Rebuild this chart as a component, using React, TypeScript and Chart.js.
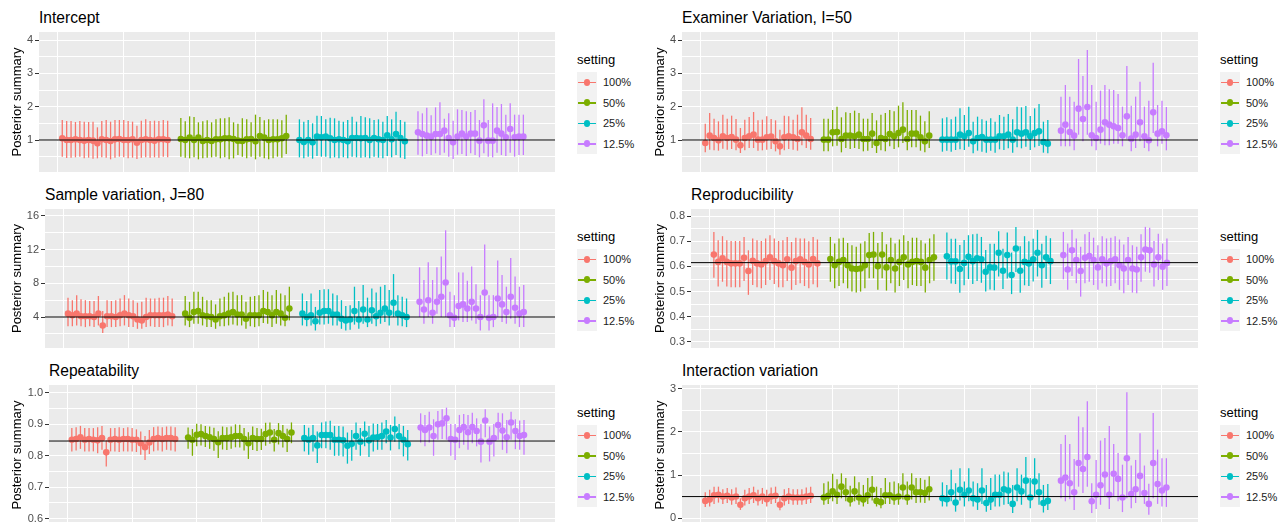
import React, { useEffect, useRef } from "react";
import { Chart, registerables } from "chart.js";

Chart.register(...registerables);

const FONT = '"Liberation Sans", Arial, Helvetica, sans-serif';

// Simulation settings (share of examiners observed) and their colours
const settings = ["100%", "50%", "25%", "12.5%"];
const settingColors = ["#F8766D", "#7CAE00", "#00BFC4", "#C77CFF"];

// Replicate runs within each setting; settings are laid out one after another on the x axis
const runNumbers = [1, 2, 3, 4, 5, 6, 7, 8, 9, 10, 11, 12, 13, 14, 15, 16, 17, 18, 19, 20, 21, 22, 23, 24, 25];
const settingSpacing = 27;
const xGridValues = [0, 15, 30, 45, 60, 75, 90, 105];
const xMin = -4.3;
const xMax = 113.2;

// ---------- Intercept ----------
const interceptEst = [
  [1.05, 1.0, 1.0, 1.02, 1.0, 0.98, 1.0, 0.98, 0.9, 1.02, 1.0, 0.97, 1.02, 1.03, 1.0, 1.0, 1.02, 0.92, 1.0, 1.02, 1.0, 0.98, 1.02, 1.02, 1.0],
  [1.03, 1.0, 1.07, 1.0, 1.07, 0.97, 1.0, 0.97, 1.02, 1.02, 1.05, 1.05, 1.03, 0.98, 0.97, 1.02, 1.03, 0.96, 1.12, 1.07, 1.0, 1.02, 1.02, 1.05, 1.12],
  [1.0, 0.94, 1.0, 0.93, 1.1, 1.08, 1.1, 1.05, 1.0, 1.02, 1.0, 0.96, 1.06, 1.06, 1.05, 1.06, 1.0, 1.06, 1.02, 1.0, 1.14, 1.02, 1.18, 1.06, 0.96],
  [1.23, 1.18, 1.13, 1.1, 1.18, 1.18, 1.28, 1.06, 0.93, 1.1, 1.19, 1.1, 1.19, 1.19, 0.98, 1.44, 0.98, 0.98, 1.28, 1.19, 1.08, 1.33, 1.08, 1.1, 1.1],
];
const interceptLower = [
  [0.5, 0.46, 0.47, 0.48, 0.5, 0.45, 0.47, 0.44, 0.45, 0.48, 0.47, 0.42, 0.47, 0.5, 0.48, 0.45, 0.47, 0.43, 0.47, 0.48, 0.47, 0.48, 0.47, 0.5, 0.48],
  [0.5, 0.47, 0.45, 0.48, 0.42, 0.45, 0.47, 0.48, 0.5, 0.45, 0.48, 0.42, 0.45, 0.55, 0.5, 0.45, 0.5, 0.42, 0.5, 0.45, 0.42, 0.45, 0.5, 0.47, 0.58],
  [0.48, 0.45, 0.5, 0.44, 0.52, 0.5, 0.5, 0.45, 0.48, 0.45, 0.48, 0.45, 0.5, 0.48, 0.47, 0.48, 0.45, 0.5, 0.47, 0.45, 0.52, 0.48, 0.55, 0.47, 0.43],
  [0.56, 0.51, 0.58, 0.55, 0.6, 0.55, 0.62, 0.5, 0.43, 0.56, 0.58, 0.52, 0.6, 0.55, 0.48, 0.6, 0.5, 0.48, 0.62, 0.55, 0.52, 0.62, 0.5, 0.55, 0.55],
];
const interceptUpper = [
  [1.6, 1.57, 1.57, 1.54, 1.57, 1.55, 1.54, 1.55, 1.38, 1.57, 1.6, 1.55, 1.6, 1.6, 1.6, 1.57, 1.55, 1.43, 1.58, 1.62, 1.57, 1.58, 1.57, 1.6, 1.58],
  [1.66, 1.56, 1.71, 1.69, 1.53, 1.56, 1.59, 1.53, 1.62, 1.65, 1.65, 1.68, 1.53, 1.49, 1.65, 1.62, 1.53, 1.76, 1.69, 1.59, 1.62, 1.62, 1.62, 1.59, 1.76],
  [1.62, 1.55, 1.6, 1.5, 1.73, 1.72, 1.62, 1.67, 1.65, 1.58, 1.55, 1.6, 1.7, 1.55, 1.72, 1.68, 1.65, 1.6, 1.62, 1.55, 1.72, 1.62, 1.85, 1.6, 1.55],
  [1.86, 1.8, 1.97, 1.74, 1.98, 2.13, 1.64, 1.8, 1.58, 1.92, 1.9, 1.86, 1.84, 1.9, 1.6, 2.22, 1.6, 2.1, 1.99, 2.08, 1.76, 2.1, 1.76, 1.76, 1.76],
];

// ---------- Examiner variation ----------
const examinerEst = [
  [0.91, 1.13, 1.06, 0.99, 1.11, 1.06, 1.09, 1.01, 0.84, 1.06, 1.11, 1.16, 1.01, 1.01, 1.08, 1.1, 0.96, 0.81, 1.08, 1.11, 1.08, 1.03, 1.23, 1.13, 1.03],
  [1.01, 1.01, 1.23, 1.24, 1.03, 1.13, 1.13, 1.11, 1.16, 1.03, 1.03, 1.19, 0.91, 1.06, 1.03, 1.18, 1.11, 1.21, 1.31, 1.03, 1.19, 1.19, 1.08, 0.96, 1.13],
  [1.01, 1.01, 1.01, 1.01, 1.16, 1.11, 1.21, 0.96, 1.06, 1.09, 1.01, 1.01, 1.01, 1.11, 1.11, 1.16, 1.01, 1.23, 1.19, 1.23, 1.11, 1.21, 1.26, 0.94, 0.89],
  [1.28, 1.46, 1.24, 1.13, 1.94, 1.63, 1.99, 1.14, 1.06, 1.31, 1.53, 1.46, 1.41, 1.36, 1.14, 1.71, 1.04, 1.16, 1.53, 1.11, 0.99, 1.83, 1.19, 1.26, 1.14],
];
const examinerLower = [
  [0.63, 0.71, 0.69, 0.68, 0.74, 0.71, 0.73, 0.69, 0.61, 0.69, 0.76, 0.76, 0.68, 0.69, 0.71, 0.73, 0.66, 0.56, 0.69, 0.73, 0.71, 0.68, 0.84, 0.76, 0.71],
  [0.66, 0.66, 0.81, 0.83, 0.63, 0.76, 0.73, 0.76, 0.73, 0.66, 0.68, 0.76, 0.61, 0.69, 0.66, 0.81, 0.73, 0.78, 0.91, 0.69, 0.78, 0.78, 0.68, 0.63, 0.76],
  [0.65, 0.68, 0.65, 0.7, 0.72, 0.7, 0.8, 0.6, 0.68, 0.65, 0.62, 0.68, 0.62, 0.72, 0.7, 0.75, 0.62, 0.78, 0.75, 0.8, 0.7, 0.78, 0.82, 0.62, 0.6],
  [0.81, 0.81, 0.81, 0.69, 1.16, 0.96, 1.16, 0.81, 0.69, 0.89, 0.84, 0.84, 0.89, 0.89, 0.81, 1.03, 0.66, 0.76, 0.96, 0.76, 0.66, 1.21, 0.81, 0.89, 0.69],
];
const examinerUpper = [
  [1.49, 1.81, 1.64, 1.56, 1.76, 1.64, 1.73, 1.63, 1.36, 1.61, 1.69, 1.84, 1.59, 1.61, 1.71, 1.63, 1.59, 1.31, 1.73, 1.71, 1.61, 1.76, 1.98, 1.76, 1.66],
  [1.64, 1.64, 1.9, 2.0, 1.68, 1.83, 1.81, 1.88, 1.81, 1.64, 1.64, 1.81, 1.59, 1.76, 1.81, 1.9, 1.86, 2.03, 2.13, 1.9, 1.9, 1.9, 1.73, 1.56, 1.86],
  [1.65, 1.68, 1.62, 1.7, 1.95, 1.75, 2.0, 1.55, 1.7, 1.62, 1.58, 1.65, 1.55, 1.75, 1.7, 1.78, 1.62, 2.0, 1.98, 2.02, 1.72, 1.95, 2.08, 1.55, 1.6],
  [2.3, 2.65, 2.3, 2.15, 3.43, 2.92, 3.7, 2.65, 2.15, 2.48, 2.65, 2.52, 2.5, 2.38, 2.0, 3.22, 2.03, 2.3, 2.75, 2.0, 2.18, 3.32, 2.05, 2.18, 1.99],
];

// ---------- Sample variation ----------
const sampleEst = [
  [4.4, 4.2, 4.4, 4.1, 4.1, 4.1, 4.0, 4.4, 3.0, 4.1, 4.1, 4.0, 4.2, 4.4, 4.2, 4.1, 3.7, 3.6, 4.0, 4.2, 4.2, 4.2, 4.2, 4.3, 4.1],
  [4.4, 3.9, 4.6, 4.7, 4.2, 4.1, 4.0, 3.7, 4.1, 4.2, 4.4, 4.6, 4.3, 4.3, 3.8, 4.2, 4.2, 4.2, 4.7, 4.6, 4.2, 4.6, 4.4, 3.9, 5.0],
  [4.4, 4.0, 4.2, 3.5, 4.5, 4.7, 4.7, 4.3, 4.3, 3.8, 3.6, 3.7, 4.7, 3.7, 4.9, 3.7, 4.8, 4.1, 4.5, 5.0, 4.5, 5.7, 4.4, 4.2, 4.0],
  [5.8, 4.9, 6.0, 4.5, 5.8, 6.4, 8.1, 4.2, 3.9, 5.3, 5.5, 5.0, 5.8, 5.0, 4.0, 6.9, 3.9, 4.0, 6.2, 5.5, 4.6, 6.4, 5.1, 4.4, 4.6],
];
const sampleLower = [
  [2.9, 2.9, 3.0, 2.9, 2.8, 2.9, 2.8, 3.0, 2.1, 2.8, 2.8, 2.8, 2.9, 3.0, 2.8, 2.8, 2.6, 2.6, 2.8, 2.9, 2.8, 2.8, 2.8, 3.0, 2.9],
  [3.0, 2.8, 3.2, 3.2, 3.0, 2.8, 2.8, 2.6, 2.9, 2.9, 3.0, 3.1, 3.0, 3.0, 2.6, 2.9, 2.8, 2.9, 3.3, 3.2, 2.8, 3.2, 3.0, 2.9, 3.6],
  [3.0, 2.9, 3.0, 2.4, 3.1, 3.1, 3.2, 3.0, 3.0, 2.6, 2.4, 2.5, 3.1, 2.6, 3.2, 2.8, 3.2, 2.9, 3.2, 3.4, 3.0, 4.0, 3.0, 2.9, 2.8],
  [4.0, 3.2, 4.0, 3.2, 4.4, 4.0, 4.0, 2.8, 2.8, 3.6, 3.4, 3.4, 3.6, 3.2, 2.4, 4.0, 2.4, 2.8, 4.0, 3.4, 3.2, 3.8, 3.2, 2.8, 2.8],
];
const sampleUpper = [
  [6.3, 6.0, 6.6, 6.1, 6.0, 5.9, 5.9, 6.5, 4.7, 6.0, 5.9, 6.0, 6.2, 6.6, 6.2, 6.0, 5.7, 5.8, 6.3, 6.2, 6.2, 6.3, 6.3, 6.5, 6.2],
  [6.5, 5.8, 7.0, 7.0, 6.4, 6.0, 6.0, 5.5, 6.2, 6.4, 6.9, 7.0, 6.6, 6.6, 5.8, 6.4, 6.5, 6.6, 7.2, 7.0, 6.6, 7.2, 6.8, 6.6, 7.6],
  [6.8, 5.9, 6.8, 5.2, 7.2, 7.3, 7.3, 6.8, 6.6, 6.0, 5.3, 5.4, 7.6, 5.9, 7.8, 6.3, 7.4, 6.9, 7.6, 7.8, 7.2, 9.1, 6.6, 6.4, 6.2],
  [9.9, 8.4, 10.5, 8.4, 9.9, 11.2, 14.3, 7.0, 6.6, 9.3, 9.3, 8.3, 10.0, 7.9, 6.6, 12.6, 6.6, 6.6, 10.7, 9.0, 7.6, 11.0, 8.8, 7.6, 7.8],
];

// ---------- Reproducibility ----------
const reproEst = [
  [0.647, 0.618, 0.632, 0.618, 0.612, 0.612, 0.612, 0.634, 0.582, 0.622, 0.612, 0.608, 0.621, 0.636, 0.621, 0.612, 0.605, 0.628, 0.595, 0.621, 0.628, 0.618, 0.608, 0.629, 0.612],
  [0.629, 0.605, 0.618, 0.625, 0.605, 0.592, 0.59, 0.592, 0.605, 0.645, 0.647, 0.601, 0.647, 0.596, 0.625, 0.592, 0.618, 0.636, 0.608, 0.618, 0.621, 0.618, 0.595, 0.625, 0.636],
  [0.64, 0.62, 0.62, 0.59, 0.614, 0.638, 0.621, 0.632, 0.628, 0.579, 0.596, 0.595, 0.654, 0.583, 0.645, 0.566, 0.671, 0.583, 0.618, 0.612, 0.628, 0.654, 0.605, 0.636, 0.621],
  [0.645, 0.588, 0.664, 0.625, 0.582, 0.634, 0.641, 0.625, 0.596, 0.628, 0.612, 0.621, 0.628, 0.605, 0.592, 0.625, 0.592, 0.588, 0.636, 0.667, 0.664, 0.608, 0.636, 0.599, 0.614],
];
const reproLower = [
  [0.555, 0.52, 0.539, 0.52, 0.517, 0.517, 0.517, 0.542, 0.487, 0.526, 0.517, 0.513, 0.526, 0.546, 0.53, 0.517, 0.517, 0.542, 0.507, 0.526, 0.533, 0.522, 0.513, 0.529, 0.517],
  [0.539, 0.513, 0.522, 0.533, 0.513, 0.5, 0.496, 0.5, 0.513, 0.553, 0.553, 0.507, 0.553, 0.504, 0.533, 0.496, 0.522, 0.546, 0.513, 0.526, 0.522, 0.522, 0.496, 0.533, 0.543],
  [0.548, 0.532, 0.53, 0.495, 0.525, 0.55, 0.53, 0.542, 0.535, 0.5, 0.508, 0.505, 0.56, 0.51, 0.552, 0.49, 0.578, 0.495, 0.525, 0.522, 0.54, 0.56, 0.515, 0.55, 0.53],
  [0.549, 0.507, 0.562, 0.533, 0.48, 0.533, 0.539, 0.526, 0.507, 0.533, 0.52, 0.522, 0.533, 0.507, 0.493, 0.526, 0.496, 0.493, 0.539, 0.579, 0.575, 0.52, 0.546, 0.507, 0.522],
];
const reproUpper = [
  [0.737, 0.704, 0.72, 0.704, 0.701, 0.701, 0.701, 0.717, 0.664, 0.711, 0.704, 0.701, 0.711, 0.724, 0.711, 0.701, 0.704, 0.717, 0.697, 0.714, 0.711, 0.711, 0.7, 0.717, 0.707],
  [0.717, 0.691, 0.711, 0.714, 0.693, 0.684, 0.678, 0.691, 0.7, 0.733, 0.737, 0.693, 0.737, 0.688, 0.714, 0.691, 0.707, 0.724, 0.701, 0.714, 0.714, 0.704, 0.691, 0.711, 0.728],
  [0.735, 0.71, 0.71, 0.685, 0.705, 0.724, 0.728, 0.73, 0.717, 0.665, 0.69, 0.69, 0.74, 0.67, 0.735, 0.655, 0.757, 0.68, 0.72, 0.7, 0.71, 0.745, 0.69, 0.722, 0.712],
  [0.737, 0.691, 0.746, 0.711, 0.678, 0.728, 0.737, 0.714, 0.684, 0.72, 0.711, 0.714, 0.72, 0.707, 0.687, 0.717, 0.684, 0.678, 0.728, 0.757, 0.754, 0.701, 0.73, 0.691, 0.711],
];

// ---------- Repeatability ----------
const repeatEst = [
  [0.851, 0.853, 0.859, 0.851, 0.853, 0.851, 0.849, 0.856, 0.811, 0.851, 0.853, 0.851, 0.853, 0.853, 0.851, 0.851, 0.84, 0.827, 0.842, 0.853, 0.856, 0.853, 0.856, 0.856, 0.853],
  [0.858, 0.851, 0.867, 0.869, 0.863, 0.859, 0.853, 0.843, 0.856, 0.856, 0.859, 0.863, 0.863, 0.853, 0.84, 0.856, 0.853, 0.853, 0.869, 0.874, 0.851, 0.872, 0.863, 0.853, 0.874],
  [0.856, 0.851, 0.856, 0.833, 0.866, 0.866, 0.866, 0.851, 0.851, 0.849, 0.832, 0.838, 0.863, 0.845, 0.87, 0.849, 0.858, 0.859, 0.863, 0.877, 0.858, 0.885, 0.863, 0.851, 0.837],
  [0.89, 0.882, 0.89, 0.863, 0.9, 0.903, 0.919, 0.853, 0.851, 0.882, 0.891, 0.875, 0.891, 0.879, 0.845, 0.912, 0.845, 0.856, 0.898, 0.88, 0.859, 0.906, 0.879, 0.863, 0.866],
];
const repeatLower = [
  [0.814, 0.817, 0.822, 0.814, 0.814, 0.814, 0.808, 0.819, 0.766, 0.814, 0.814, 0.812, 0.814, 0.814, 0.814, 0.812, 0.803, 0.787, 0.806, 0.814, 0.817, 0.814, 0.819, 0.817, 0.814],
  [0.822, 0.8, 0.83, 0.833, 0.828, 0.822, 0.816, 0.793, 0.82, 0.818, 0.822, 0.827, 0.826, 0.817, 0.79, 0.818, 0.815, 0.818, 0.832, 0.838, 0.814, 0.836, 0.826, 0.812, 0.84],
  [0.814, 0.803, 0.814, 0.777, 0.824, 0.824, 0.819, 0.8, 0.8, 0.798, 0.775, 0.784, 0.819, 0.8, 0.83, 0.796, 0.814, 0.819, 0.819, 0.84, 0.817, 0.845, 0.821, 0.798, 0.785],
  [0.842, 0.83, 0.842, 0.8, 0.851, 0.853, 0.851, 0.8, 0.787, 0.824, 0.835, 0.819, 0.84, 0.83, 0.779, 0.859, 0.782, 0.798, 0.851, 0.819, 0.808, 0.851, 0.821, 0.819, 0.803],
];
const repeatUpper = [
  [0.888, 0.891, 0.895, 0.888, 0.888, 0.888, 0.891, 0.895, 0.849, 0.888, 0.888, 0.891, 0.888, 0.891, 0.888, 0.884, 0.877, 0.863, 0.882, 0.891, 0.893, 0.891, 0.893, 0.893, 0.891],
  [0.89, 0.885, 0.902, 0.9, 0.895, 0.893, 0.889, 0.878, 0.893, 0.891, 0.893, 0.9, 0.899, 0.888, 0.875, 0.893, 0.888, 0.886, 0.905, 0.906, 0.885, 0.904, 0.898, 0.886, 0.906],
  [0.898, 0.889, 0.898, 0.877, 0.906, 0.909, 0.911, 0.895, 0.895, 0.893, 0.874, 0.882, 0.906, 0.888, 0.909, 0.895, 0.903, 0.901, 0.906, 0.914, 0.898, 0.925, 0.901, 0.895, 0.882],
  [0.935, 0.93, 0.94, 0.916, 0.942, 0.948, 0.953, 0.901, 0.901, 0.93, 0.933, 0.93, 0.937, 0.919, 0.901, 0.948, 0.893, 0.901, 0.937, 0.935, 0.914, 0.94, 0.916, 0.912, 0.914],
];

// ---------- Interaction variation ----------
const interactionEst = [
  [0.4, 0.43, 0.53, 0.54, 0.5, 0.52, 0.48, 0.5, 0.31, 0.46, 0.5, 0.53, 0.46, 0.5, 0.44, 0.5, 0.52, 0.31, 0.46, 0.5, 0.48, 0.48, 0.48, 0.5, 0.52],
  [0.48, 0.52, 0.62, 0.54, 0.73, 0.6, 0.43, 0.62, 0.48, 0.43, 0.53, 0.66, 0.4, 0.37, 0.53, 0.53, 0.48, 0.5, 0.71, 0.48, 0.71, 0.6, 0.6, 0.58, 0.67],
  [0.46, 0.44, 0.6, 0.36, 0.66, 0.54, 0.64, 0.46, 0.43, 0.64, 0.35, 0.43, 0.54, 0.54, 0.67, 0.64, 0.33, 0.71, 0.62, 0.87, 0.48, 0.85, 0.6, 0.35, 0.4],
  [0.87, 0.94, 0.81, 0.6, 1.28, 1.14, 1.42, 0.39, 0.54, 0.76, 1.01, 0.54, 1.03, 0.91, 0.48, 1.39, 0.56, 0.67, 0.98, 0.58, 0.33, 1.28, 0.79, 0.64, 0.71],
];
const interactionLower = [
  [0.26, 0.27, 0.33, 0.36, 0.33, 0.35, 0.31, 0.33, 0.19, 0.29, 0.33, 0.35, 0.29, 0.33, 0.27, 0.33, 0.35, 0.18, 0.29, 0.33, 0.31, 0.31, 0.31, 0.33, 0.35],
  [0.31, 0.33, 0.39, 0.33, 0.46, 0.39, 0.27, 0.39, 0.31, 0.27, 0.33, 0.41, 0.27, 0.23, 0.33, 0.33, 0.31, 0.31, 0.43, 0.31, 0.43, 0.35, 0.36, 0.35, 0.41],
  [0.27, 0.27, 0.39, 0.15, 0.41, 0.27, 0.39, 0.27, 0.19, 0.33, 0.15, 0.19, 0.27, 0.27, 0.31, 0.33, 0.12, 0.39, 0.31, 0.5, 0.23, 0.5, 0.31, 0.13, 0.19],
  [0.46, 0.39, 0.44, 0.19, 0.73, 0.58, 0.73, 0.12, 0.21, 0.31, 0.5, 0.21, 0.5, 0.39, 0.14, 0.46, 0.23, 0.35, 0.5, 0.33, 0.08, 0.46, 0.33, 0.27, 0.26],
];
const interactionUpper = [
  [0.6, 0.66, 0.73, 0.73, 0.67, 0.7, 0.67, 0.71, 0.46, 0.66, 0.7, 0.73, 0.66, 0.7, 0.66, 0.71, 0.73, 0.5, 0.67, 0.7, 0.67, 0.67, 0.67, 0.71, 0.73],
  [0.81, 0.85, 1.03, 0.9, 1.04, 0.93, 0.75, 0.97, 0.83, 0.77, 0.93, 0.98, 0.73, 0.7, 0.93, 0.83, 0.85, 0.81, 1.04, 0.85, 1.04, 0.93, 0.93, 0.89, 0.97],
  [0.83, 0.77, 1.12, 0.81, 1.16, 0.85, 1.16, 0.85, 0.81, 1.16, 0.77, 0.93, 1.01, 1.01, 1.08, 1.06, 0.77, 1.16, 1.01, 1.42, 0.93, 1.39, 1.04, 0.77, 0.79],
  [1.72, 1.93, 1.72, 1.37, 2.36, 2.11, 2.71, 0.81, 1.35, 1.8, 1.86, 2.14, 1.72, 1.51, 1.24, 2.92, 1.22, 1.35, 1.97, 1.22, 0.8, 2.44, 1.59, 1.39, 1.39],
];

// True parameter values drawn as reference lines
const trueIntercept = 1;
const trueExaminer = 1;
const trueSample = 4;
const trueRepro = 0.615;
const trueRepeat = 0.847;
const trueInteraction = 0.5;

// Y-axis tick values and labels
const ticksOneToFour = [1, 2, 3, 4];
const ticksOneToFourLabels = ["1", "2", "3", "4"];
const ticksOneToFourMinor = [0.5, 1.5, 2.5, 3.5];
const ticksSample = [4, 8, 12, 16];
const ticksSampleLabels = ["4", "8", "12", "16"];
const ticksSampleMinor = [2, 6, 10, 14];
const ticksRepro = [0.3, 0.4, 0.5, 0.6, 0.7, 0.8];
const ticksReproLabels = ["0.3", "0.4", "0.5", "0.6", "0.7", "0.8"];
const ticksReproMinor = [0.35, 0.45, 0.55, 0.65, 0.75];
const ticksRepeat = [0.6, 0.7, 0.8, 0.9, 1.0];
const ticksRepeatLabels = ["0.6", "0.7", "0.8", "0.9", "1.0"];
const ticksRepeatMinor = [0.65, 0.75, 0.85, 0.95];
const ticksInteraction = [0, 1, 2, 3];
const ticksInteractionLabels = ["0", "1", "2", "3"];
const ticksInteractionMinor = [0.5, 1.5, 2.5];

interface Box { left: number; top: number; right: number; bottom: number }
interface PanelSpec {
  title: string;
  est: number[][];
  lower: number[][];
  upper: number[][];
  reference: number;
  major: number[];
  majorLabels: string[];
  minor: number[];
  yMin: number;
  yMax: number;
  box: Box;
  colLeft: number;
}

const LEFT_COL = 0;
const RIGHT_COL = 643;

const panels: PanelSpec[] = [
  {
    title: "Intercept", est: interceptEst, lower: interceptLower, upper: interceptUpper, reference: trueIntercept,
    major: ticksOneToFour, majorLabels: ticksOneToFourLabels, minor: ticksOneToFourMinor, yMin: 0.04, yMax: 4.24,
    box: { left: 39, top: 32, right: 557, bottom: 172 }, colLeft: LEFT_COL,
  },
  {
    title: "Examiner Variation, I=50", est: examinerEst, lower: examinerLower, upper: examinerUpper, reference: trueExaminer,
    major: ticksOneToFour, majorLabels: ticksOneToFourLabels, minor: ticksOneToFourMinor, yMin: 0.04, yMax: 4.24,
    box: { left: 682, top: 32, right: 1200, bottom: 172 }, colLeft: RIGHT_COL,
  },
  {
    title: "Sample variation, J=80", est: sampleEst, lower: sampleLower, upper: sampleUpper, reference: trueSample,
    major: ticksSample, majorLabels: ticksSampleLabels, minor: ticksSampleMinor, yMin: 0.32, yMax: 16.83,
    box: { left: 45, top: 209, right: 557, bottom: 348 }, colLeft: LEFT_COL,
  },
  {
    title: "Reproducibility", est: reproEst, lower: reproLower, upper: reproUpper, reference: trueRepro,
    major: ticksRepro, majorLabels: ticksReproLabels, minor: ticksReproMinor, yMin: 0.276, yMax: 0.828,
    box: { left: 691, top: 209, right: 1200, bottom: 348 }, colLeft: RIGHT_COL,
  },
  {
    title: "Repeatability", est: repeatEst, lower: repeatLower, upper: repeatUpper, reference: trueRepeat,
    major: ticksRepeat, majorLabels: ticksRepeatLabels, minor: ticksRepeatMinor, yMin: 0.58, yMax: 1.025,
    box: { left: 49, top: 385, right: 557, bottom: 525 }, colLeft: LEFT_COL,
  },
  {
    title: "Interaction variation", est: interactionEst, lower: interactionLower, upper: interactionUpper, reference: trueInteraction,
    major: ticksInteraction, majorLabels: ticksInteractionLabels, minor: ticksInteractionMinor, yMin: -0.16, yMax: 3.09,
    box: { left: 682, top: 385, right: 1200, bottom: 525 }, colLeft: RIGHT_COL,
  },
];

// Grey panel background behind the grid
const panelBackground = {
  id: "panelBackground",
  beforeDraw(chart: any) {
    const { ctx, chartArea } = chart;
    if (!chartArea) return;
    ctx.save();
    ctx.fillStyle = "#EBEBEB";
    ctx.fillRect(chartArea.left, chartArea.top, chartArea.right - chartArea.left, chartArea.bottom - chartArea.top);
    ctx.restore();
  },
};

const PAD_TOP = 12;
const PAD_BOTTOM = 12;
const KEY_HEIGHT = 20.5;

function isMajor(spec: PanelSpec, v: number) {
  return spec.major.some((m) => Math.abs(m - v) < 1e-9);
}

function PosteriorPanel({ spec }: { spec: PanelSpec }) {
  const canvasRef = useRef<HTMLCanvasElement>(null);
  const { box, colLeft } = spec;
  const width = box.right - colLeft + 2;
  const height = box.bottom - box.top + PAD_TOP + PAD_BOTTOM;

  useEffect(() => {
    const canvas = canvasRef.current;
    if (!canvas) return;
    const datasets: any[] = [];
    settings.forEach((name, g) => {
      const xs = runNumbers.map((r) => g * settingSpacing + r);
      // credible interval as a thin floating bar (width = 0.3 of one run step)
      datasets.push({
        type: "bar",
        label: name + " interval",
        data: xs.map((x, i) => ({ x, y: [spec.lower[g][i], spec.upper[g][i]] })),
        backgroundColor: settingColors[g],
        borderWidth: 0,
        barPercentage: 0.3,
        categoryPercentage: 1,
        maxBarThickness: 1.3,
        grouped: false,
        order: 3,
      });
      // posterior point estimate
      datasets.push({
        type: "scatter",
        label: name,
        data: xs.map((x, i) => ({ x, y: spec.est[g][i] })),
        backgroundColor: settingColors[g],
        borderWidth: 0,
        pointRadius: 3.3,
        order: 2,
      });
    });
    datasets.push({
      type: "line",
      label: "true value",
      data: [
        { x: xMin, y: spec.reference },
        { x: xMax, y: spec.reference },
      ],
      borderColor: "#000000",
      borderWidth: 1,
      pointRadius: 0,
      order: 1,
    });

    const yGrid = [...spec.major, ...spec.minor].sort((a, b) => a - b);

    const chart = new Chart(canvas, {
      type: "scatter",
      data: { datasets },
      options: {
        responsive: false,
        animation: false,
        events: [],
        layout: { padding: { left: 0, right: 2, top: PAD_TOP, bottom: PAD_BOTTOM } },
        plugins: {
          legend: { display: false },
          tooltip: { enabled: false },
          title: { display: false },
        },
        scales: {
          x: {
            type: "linear",
            min: xMin,
            max: xMax,
            offset: false,
            afterBuildTicks: (scale: any) => {
              scale.ticks = xGridValues.map((v) => ({ value: v }));
            },
            afterFit: (scale: any) => {
              scale.height = 0;
            },
            ticks: { display: false, autoSkip: false },
            grid: { color: "#FFFFFF", lineWidth: 1, drawTicks: false, offset: false },
            border: { display: false },
          },
          y: {
            type: "linear",
            min: spec.yMin,
            max: spec.yMax,
            afterBuildTicks: (scale: any) => {
              scale.ticks = yGrid.map((v) => ({ value: v }));
            },
            afterFit: (scale: any) => {
              scale.width = box.left - colLeft;
            },
            ticks: {
              autoSkip: false,
              color: "#4D4D4D",
              font: { family: FONT, size: 11 },
              padding: 2,
              callback: (value: any) => {
                const k = spec.major.findIndex((m) => Math.abs(m - Number(value)) < 1e-9);
                return k >= 0 ? spec.majorLabels[k] : "";
              },
            },
            grid: {
              color: "#FFFFFF",
              lineWidth: 1,
              drawTicks: true,
              tickLength: 4,
              tickWidth: 1,
              tickColor: (ctx: any) => (ctx.tick && isMajor(spec, ctx.tick.value) ? "#333333" : "rgba(0,0,0,0)"),
            },
            border: { display: false },
            title: {
              display: true,
              text: "Posterior summary",
              color: "#000000",
              font: { family: FONT, size: 13 },
              padding: { top: 10, bottom: 0 },
            },
          },
        },
      } as any,
      plugins: [panelBackground],
    });
    return () => chart.destroy();
  }, [spec]);

  const legendLeft = box.right + 20;
  const keysTop = box.top + 40;

  return (
    <>
      <div
        style={{
          position: "absolute",
          left: box.left,
          top: box.top - 14 - 10,
          height: 20,
          lineHeight: "20px",
          fontSize: 15.6,
          color: "#000000",
          whiteSpace: "nowrap",
        }}
      >
        {spec.title}
      </div>
      <canvas
        ref={canvasRef}
        width={width}
        height={height}
        style={{ position: "absolute", left: colLeft, top: box.top - PAD_TOP, width, height }}
      />
      <div
        style={{
          position: "absolute",
          left: legendLeft,
          top: box.top + 28 - 9,
          height: 18,
          lineHeight: "18px",
          fontSize: 13,
          color: "#000000",
        }}
      >
        setting
      </div>
      <div
        style={{
          position: "absolute",
          left: legendLeft,
          top: keysTop,
          width: 20,
          height: KEY_HEIGHT * settings.length,
          background: "#F2F2F2",
        }}
      />
      {settings.map((name, g) => (
        <React.Fragment key={name}>
          <div
            style={{
              position: "absolute",
              left: legendLeft + 1,
              top: keysTop + g * KEY_HEIGHT + KEY_HEIGHT / 2 - 0.75,
              width: 18,
              height: 1.5,
              background: settingColors[g],
            }}
          />
          <div
            style={{
              position: "absolute",
              left: legendLeft + 10 - 3.3,
              top: keysTop + g * KEY_HEIGHT + KEY_HEIGHT / 2 - 3.3,
              width: 6.6,
              height: 6.6,
              borderRadius: "50%",
              background: settingColors[g],
            }}
          />
          <div
            style={{
              position: "absolute",
              left: legendLeft + 26,
              top: keysTop + g * KEY_HEIGHT,
              height: KEY_HEIGHT,
              lineHeight: KEY_HEIGHT + "px",
              fontSize: 11,
              color: "#1A1A1A",
              whiteSpace: "nowrap",
            }}
          >
            {name}
          </div>
        </React.Fragment>
      ))}
    </>
  );
}

export default function App() {
  return (
    <div
      style={{
        position: "absolute",
        left: 0,
        top: 0,
        width: 1279,
        height: 522,
        overflow: "hidden",
        background: "#FFFFFF",
        fontFamily: FONT,
      }}
    >
      {panels.map((p) => (
        <PosteriorPanel key={p.title} spec={p} />
      ))}
    </div>
  );
}
